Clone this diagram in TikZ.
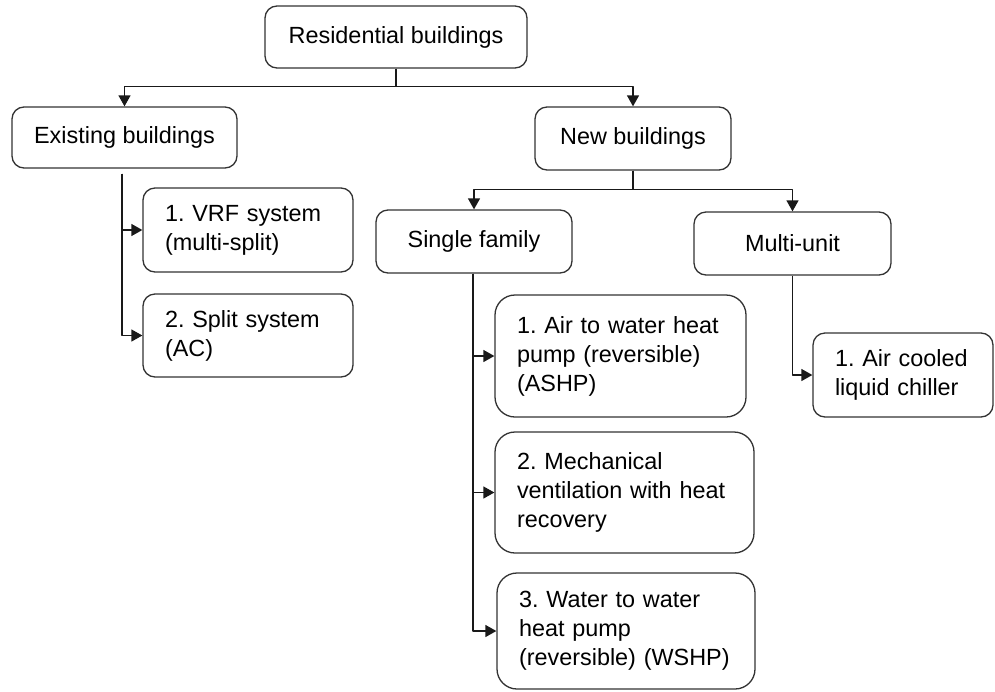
\documentclass[tikz,border=0pt]{standalone}
\usepackage{fontspec}
\setmainfont{Liberation Sans}
\usetikzlibrary{arrows.meta}
\frenchspacing
\begin{document}
\begin{tikzpicture}[x=1pt, y=-1pt, line join=round, >={Triangle[length=11pt,width=12pt]},
	font=\fontsize{23.4}{29}\selectfont,
	catbox/.style={draw=black!80, line width=1.3pt, rounded corners=12pt, inner sep=0pt, align=center},
	itembox/.style={draw=black!80, line width=1.3pt, rounded corners=#1, inner xsep=22pt, inner ysep=0pt, align=left},
	itembox/.default=12pt,
	link/.style={->, draw=black!90, line width=1.3pt}]
			\useasboundingbox (0,0) rectangle (995,691);
			% top levels
			\node[catbox, minimum width=262pt, minimum height=62pt] (res) at (396,37) {Residential buildings};
			\node[catbox, minimum width=225pt, minimum height=61pt] (exist) at (124.5,137.5) {Existing buildings};
			\node[catbox, minimum width=196pt, minimum height=63pt] (new) at (633,138.5) {New buildings};
			\node[catbox, minimum width=196pt, minimum height=63pt] (single) at (474,241.5) {Single family};
			\node[catbox, minimum width=197pt, minimum height=63pt] (multi) at (792.5,243.5) {Multi-unit};
			% systems
			\node[itembox, text width=166pt, minimum height=84pt] (vrf) at (248,230) {1. VRF system\\(multi-split)};
			\node[itembox, text width=166pt, minimum height=83pt] (split) at (248,335.5) {2. Split system\\(AC)};
			\node[itembox=20pt, text width=207pt, minimum height=122pt] (ashp) at (620.5,356) {1. Air to water heat\\pump (reversible)\\(ASHP)};
			\node[itembox=20pt, text width=215pt, minimum height=121pt] (mech) at (624.5,492.5) {2. Mechanical\\ventilation with heat\\recovery};
			\node[itembox=20pt, text width=214pt, minimum height=116pt] (wshp) at (626,631) {3. Water to water\\heat pump\\(reversible) (WSHP)};
			\node[itembox, text width=136pt, minimum height=84pt] (chill) at (903,375) {1. Air cooled\\liquid chiller};
			% connectors
			\draw[link] (res.south) -- ++(0,18) -| (exist.north);
			\draw[link] (res.south) -- ++(0,18) -| (new.north);
			\draw[link] (new.south) -- ++(0,19) -| (single.north);
			\draw[link] (new.south) -- ++(0,19) -| (multi.north);
			\draw[link, shorten <=5pt] ([xshift=-2.5pt]exist.south) |- (vrf.west);
			\draw[link, shorten <=5pt] ([xshift=-2.5pt]exist.south) |- (split.west);
			\draw[link] ([xshift=-1pt]single.south) |- (ashp.west);
			\draw[link] ([xshift=-1pt]single.south) |- (mech.west);
			\draw[link] ([xshift=-1pt]single.south) |- (wshp.west);
			\draw[link] (multi.south) |- (chill.west);
		\end{tikzpicture}
\end{document}
